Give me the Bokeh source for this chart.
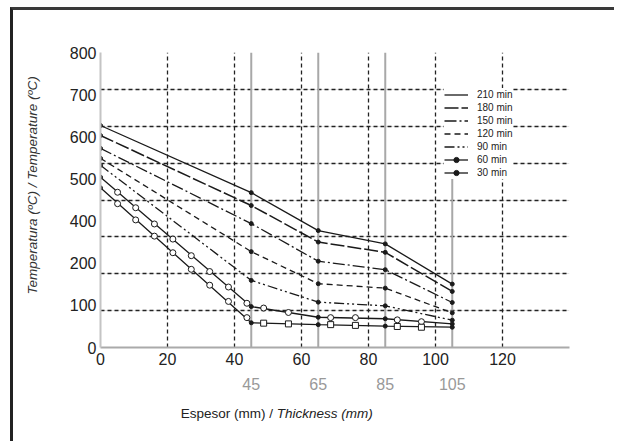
import math
from bokeh.plotting import figure
from bokeh.models import (Range1d, LinearAxis, FixedTicker, Grid, Legend, LegendItem, Arrow,
                          Label)
from bokeh.embed import file_html
from bokeh.resources import INLINE

# ---- data (thickness in mm, temperature in ºC) ----
thickness = [0, 45, 65, 85, 105]
t210 = [602, 420, 317, 281, 172]
t180 = [575, 385, 286, 258, 152]
t150 = [540, 336, 234, 211, 122]
t120 = [513, 260, 173, 161, 94]
t90 = [494, 182, 123, 113, 74]
t60 = [462, 111, 82, 78, 64]
t30 = [433, 67, 62, 58, 55]

# open-marker measurement points on the 60 and 30 min curves
marker_x = [5.1, 10.5, 16.1, 21.6, 27.1, 32.6, 38.2, 43.7, 48.7, 56.1, 68.7, 76.1, 88.6, 95.8]
m60 = [421, 379, 335, 294, 249, 206, 164, 120, 107, 95, 81, 81, 75, 70]
m30 = [390, 346, 302, 257, 212, 169, 125, 81, 66, 64, 62, 60, 57, 55]

series_names = ["210 min", "180 min", "150 min", "120 min", "90 min", "60 min", "30 min"]
series_vals = [t210, t180, t150, t120, t90, t60, t30]

x_ticks = [0, 20, 40, 60, 80, 100, 120]
x_grid = [20, 40, 60, 80, 100, 120, 140]
y_grid = [100, 200, 300, 400, 500, 600, 700, 800]
y_tick_labels = ["0", "100", "200", "400", "500", "600", "700", "800"]
ref_thickness = [45, 65, 85, 105]
ref_line_top = [800, 800, 800, 460]

FONT = "Liberation Sans"
INK = "#1a1a1a"

W, H = 604, 434
MB_L, MB_R, MB_T, MB_B = 87, 48, 42, 97
X0, X1, Y0, Y1 = 0, 140, 0, 800

p = figure(width=W, height=H, x_range=Range1d(X0, X1), y_range=Range1d(Y0, Y1),
           output_backend="svg", toolbar_location=None, y_axis_location=None,
           min_border_left=MB_L, min_border_right=MB_R, min_border_top=MB_T,
           min_border_bottom=MB_B)
# outer frame of the figure (top and left edges)
p.styles = {"margin-left": "10px", "margin-top": "7px",
            "border-left": "3px solid #222222", "border-top": "3px solid #3a3a3a"}
p.outline_line_color = None
p.background_fill_color = "white"
p.border_fill_color = "white"
p.xgrid.visible = False

sx = (W - MB_L - MB_R) / (X1 - X0)
sy = (H - MB_T - MB_B) / (Y1 - Y0)

# grids
p.add_layout(Grid(dimension=0, ticker=FixedTicker(ticks=x_grid), grid_line_color="#222222",
                  grid_line_dash="4 3", grid_line_width=1.3))
p.add_layout(Grid(dimension=1, ticker=FixedTicker(ticks=y_grid), grid_line_color="#222222",
                  grid_line_dash="4 3", grid_line_width=1.3))

# x axis
xa = p.xaxis[0]
xa.ticker = FixedTicker(ticks=x_ticks)
xa.major_tick_out = 0
xa.major_tick_in = 0
xa.minor_tick_line_color = None
xa.axis_line_color = "#aaaaaa"
xa.axis_line_width = 2
xa.major_label_standoff = 5
xa.major_label_text_font = FONT
xa.major_label_text_font_size = "16px"
xa.major_label_text_color = "#222222"

# second row of (grey) x labels
xa2 = LinearAxis(ticker=FixedTicker(ticks=ref_thickness), axis_line_color=None,
                 major_tick_line_color=None, minor_tick_line_color=None,
                 major_label_text_color="#999999", major_label_text_font=FONT,
                 major_label_text_font_size="16px", major_label_standoff=4)
p.add_layout(xa2, "below")

# y axis with label positions on an auxiliary range
n_lab = len(y_tick_labels)
p.extra_y_ranges = {"lab": Range1d(0, n_lab - 1)}
ya = LinearAxis(y_range_name="lab", ticker=FixedTicker(ticks=list(range(n_lab))),
                major_label_overrides={i: s for i, s in enumerate(y_tick_labels)})
ya.major_tick_out = 0
ya.major_tick_in = 0
ya.minor_tick_line_color = None
ya.axis_line_color = "#c4c4c4"
ya.axis_line_width = 2
ya.major_label_standoff = 4
ya.major_label_text_font = FONT
ya.major_label_text_font_size = "16px"
ya.major_label_text_color = "#222222"
p.add_layout(ya, "left")

# grey reference lines
for xr, yt in zip(ref_thickness, ref_line_top):
    p.add_layout(Arrow(end=None, x_start=xr, x_end=xr, y_start=Y0 - 21 / sy, y_end=yt,
                       line_color="#a8a8a8", line_width=2, level="underlay"))

# series
dashes = ["solid", "14 3", "12 3 2 3", "6 4", "10 3 2 3 2 3", "solid", "solid"]
widths = [1.3, 1.5, 1.3, 1.3, 1.3, 1.3, 1.3]
items = []
for name, vals, d, w in zip(series_names, series_vals, dashes, widths):
    r = p.line(thickness, vals, line_color=INK, line_width=w, line_dash=d)
    dots = p.scatter(thickness, vals, size=4, color=INK)
    rs = [r, dots] if name in ("60 min", "30 min") else [r]
    items.append(LegendItem(label=name, renderers=rs))

split = sum(1 for x in marker_x if x < thickness[1])
p.scatter(marker_x, m60, marker="circle", size=6, fill_color="white", line_color=INK, line_width=1)
p.scatter(marker_x[:split], m30[:split], marker="circle", size=6, fill_color="white",
          line_color=INK, line_width=1)
p.scatter(marker_x[split:], m30[split:], marker="square", size=6, fill_color="white",
          line_color=INK, line_width=1)

legend = Legend(items=items, location=(344, 168), label_text_font=FONT,
                label_text_font_size="10px", label_text_color="#222222",
                glyph_width=24, glyph_height=13, label_height=13, spacing=0, padding=4,
                margin=0, label_standoff=9, border_line_color=None,
                background_fill_color="white", background_fill_alpha=1)
p.add_layout(legend)

# y-axis title (italic, rotated), in the left side panel
p.add_layout(Label(x=X0 - 68 / sx, y=Y0 + 164 / sy, text="Temperatura (ºC) /  Temperature (ºC)",
                   angle=math.pi / 2, text_align="center", text_baseline="middle",
                   text_font=FONT, text_font_size="13.5px", text_font_style="italic",
                   text_color="#333333"), "left")

# x-axis title in two styles, placed in the lower side panel
title_y = Y0 - 66 / sy
title_split = 52.6
p.add_layout(Label(x=title_split, y=title_y, text="Espesor (mm) / ", text_align="right",
                   text_baseline="middle", text_font=FONT, text_font_size="13.5px",
                   text_color="#222222"), "below")
p.add_layout(Label(x=title_split, y=title_y, text="Thickness (mm)", text_align="left",
                   text_baseline="middle", text_font=FONT, text_font_size="13.5px",
                   text_font_style="italic", text_color="#222222"), "below")

open("out.html", "w").write(file_html(p, INLINE))
